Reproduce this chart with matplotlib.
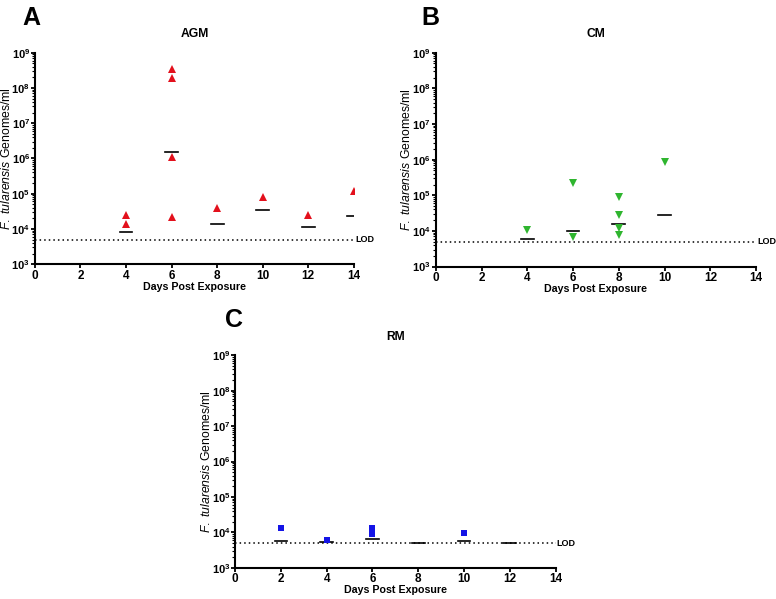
import numpy as np
import matplotlib.pyplot as plt
from matplotlib.ticker import LogLocator, FixedLocator

plt.rcParams['font.family'] = ['Liberation Sans', 'DejaVu Sans']
plt.rcParams['mathtext.fontset'] = 'custom'
plt.rcParams['mathtext.rm'] = 'Liberation Sans'
plt.rcParams['mathtext.it'] = 'Liberation Sans:italic'
plt.rcParams['mathtext.bf'] = 'Liberation Sans:bold'

LOD = 5e3

# AGM
agm_days = [4, 4, 6, 6, 6, 6, 8, 10, 12, 14]
agm_vals = [2.5e4, 1.35e4, 3.4e8, 1.95e8, 1.1e6, 2.2e4, 3.9e4, 8.2e4, 2.5e4, 1.18e5]
agm_mean_days = [4, 6, 8, 10, 12, 14]
agm_means = [8.3e3, 1.5e6, 1.38e4, 3.4e4, 1.12e4, 2.4e4]

# CM
cm_days = [4, 6, 6, 8, 8, 8, 8, 10]
cm_vals = [1.07e4, 2.2e5, 6.9e3, 8.9e4, 2.8e4, 1.17e4, 7.6e3, 8.5e5]
cm_mean_days = [4, 6, 8, 10]
cm_means = [5.9e3, 1.0e4, 1.58e4, 2.87e4]

# RM
rm_days = [2, 4, 6, 6, 6, 10]
rm_vals = [1.37e4, 6.0e3, 1.3e4, 1.1e4, 9e3, 9.5e3]
rm_mean_days = [2, 4, 6, 8, 10, 12]
rm_means = [5.9e3, 5.2e3, 6.6e3, 5.0e3, 5.6e3, 5.0e3]

fig = plt.figure(figsize=(7.76, 5.99), dpi=100)

def panel(rect, letter, dx, title, days, vals, mdays, means, marker, color, ms):
    ax = fig.add_axes(rect)
    ax.set_yscale('log')
    ax.set_ylim(1e3, 1e9)
    ax.set_xlim(0, 14)
    ax.plot([0, 14], [LOD, LOD], color='black', lw=1.1, ls=(0, (1, 2)), clip_on=False)
    ax.text(14.05, LOD, 'LOD', fontsize=6.5, fontweight='bold', va='center', ha='left')
    for d, m in zip(mdays, means):
        ax.plot([d - 0.28, d + 0.28], [m, m], color='black', lw=1.2)
    ax.plot(days, vals, ls='none', marker=marker, color=color, ms=ms, mew=0)
    for s in ['top', 'right']:
        ax.spines[s].set_visible(False)
    for s in ['left', 'bottom']:
        ax.spines[s].set_linewidth(1.5)
    ax.xaxis.set_major_locator(FixedLocator(range(0, 15, 2)))
    ax.set_yticks([10 ** k for k in range(3, 10)])
    ax.set_yticklabels([r'$\mathbf{10^{%d}}$' % k for k in range(3, 10)])
    ax.yaxis.set_minor_locator(LogLocator(base=10, subs=np.arange(2, 10), numticks=20))
    ax.tick_params(axis='x', which='major', length=3, width=1.3, labelsize=8.5, pad=1)
    ax.tick_params(axis='y', which='major', length=3, width=1.3, labelsize=8, pad=0.5)
    ax.tick_params(axis='y', which='minor', length=2, width=0.8)
    for lab in ax.get_xticklabels():
        lab.set_fontweight('bold')
    ax.set_xlabel('Days Post Exposure', fontsize=7.7, fontweight='bold', labelpad=0)
    ax.set_ylabel(r'$\it{F.}$ $\it{tularensis}$ Genomes/ml', fontsize=8.8)
    ax.yaxis.set_label_coords(-0.07, 0.5)
    ax.set_title(title, fontsize=8.7, fontweight='bold', pad=11)
    fig.text(rect[0] + dx, rect[1] + rect[3] + 0.058, letter, fontsize=18, fontweight='bold',
             ha='left', va='center')
    return ax

panel([0.045, 0.559, 0.411, 0.353], 'A', -0.016, 'AGM', agm_days, agm_vals,
      agm_mean_days, agm_means, '^', '#e3101c', 6)
panel([0.5615, 0.555, 0.413, 0.357], 'B', -0.018, 'CM', cm_days, cm_vals,
      cm_mean_days, cm_means, 'v', '#2fb52f', 6)
panel([0.303, 0.052, 0.413, 0.355], 'C', -0.013, 'RM', rm_days, rm_vals,
      rm_mean_days, rm_means, 's', '#1414e6', 4.5)

fig.savefig('out.png', dpi=100)
